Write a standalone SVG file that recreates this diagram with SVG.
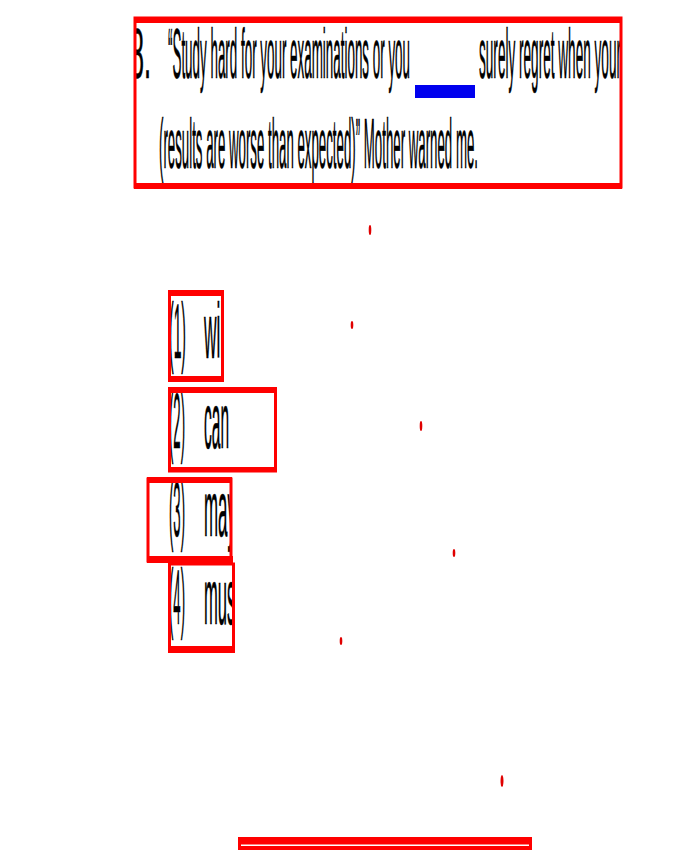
<svg xmlns="http://www.w3.org/2000/svg" width="700" height="850" viewBox="0 0 700 850">
<style>
.t{font-family:"Liberation Sans",Arial,sans-serif;fill:#000;stroke:#000;stroke-width:0.6;}
.q{font-size:70px;}
.o{font-size:78px;}
.box{fill:none;stroke:#ff0000;stroke-width:3;}
.band{fill:#ff0000;}
.speck{fill:#e00000;}
</style>
<defs>
<clipPath id="c1"><rect x="168" y="290" width="55" height="92"/></clipPath>
<clipPath id="c3"><rect x="147" y="477" width="85" height="86"/></clipPath>
<clipPath id="c4"><rect x="168" y="560" width="66" height="93"/></clipPath>
<clipPath id="cq"><rect x="134" y="17" width="488" height="172"/></clipPath>
</defs>
<rect width="700" height="850" fill="#fff"/>

<g id="question">
<g clip-path="url(#cq)">
<text class="t q" x="130" y="78" textLength="21" lengthAdjust="spacingAndGlyphs">8.</text>
<text class="t q" x="168" y="78" textLength="242" lengthAdjust="spacingAndGlyphs">“Study hard for your examinations or you</text>
<text class="t q" x="479" y="78" textLength="142" lengthAdjust="spacingAndGlyphs">surely regret when your</text>
<text class="t q" x="159" y="168" textLength="319" lengthAdjust="spacingAndGlyphs">(results are worse than expected)” Mother warned me.</text>
</g>
<rect x="415" y="85" width="60" height="13" fill="#0000ee"/>
<rect class="box" x="135" y="18" width="486" height="169"/>
<rect class="band" x="134" y="17" width="488" height="6"/>
<rect class="band" x="134" y="183" width="488" height="6"/>
</g>

<g id="option1">
<g clip-path="url(#c1)">
<text class="t o" x="169" y="358" textLength="17" lengthAdjust="spacingAndGlyphs">(1)</text>
<text class="t o" x="204" y="358" textLength="24" lengthAdjust="spacingAndGlyphs">will</text>
</g>
<rect class="box" x="169.5" y="292" width="53" height="87"/>
<rect class="band" x="168" y="290" width="56" height="6"/>
<rect class="band" x="168" y="376" width="56" height="6"/>
</g>

<g id="option2">
<text class="t o" x="169" y="448" textLength="16" lengthAdjust="spacingAndGlyphs">(2)</text>
<text class="t o" x="204" y="448" textLength="25" lengthAdjust="spacingAndGlyphs">can</text>
<rect class="box" x="169.5" y="389" width="106" height="82"/>
<rect class="band" x="168" y="387" width="109" height="6"/>
<rect class="band" x="168" y="467" width="109" height="5"/>
</g>

<g id="option3">
<g clip-path="url(#c3)">
<text class="t o" x="169" y="536" textLength="16" lengthAdjust="spacingAndGlyphs">(3)</text>
<text class="t o" x="204" y="536" textLength="32" lengthAdjust="spacingAndGlyphs">may</text>
</g>
<rect class="box" x="148" y="479" width="83" height="82"/>
<rect class="band" x="147" y="477" width="85" height="6"/>
<rect class="band" x="147" y="556" width="86" height="7"/>
</g>

<g id="option4">
<g clip-path="url(#c4)">
<text class="t o" x="169" y="624" textLength="16" lengthAdjust="spacingAndGlyphs">(4)</text>
<text class="t o" x="204" y="624" textLength="36" lengthAdjust="spacingAndGlyphs">must</text>
</g>
<rect class="box" x="169.5" y="564" width="64" height="87"/>
<rect class="band" x="168" y="646" width="67" height="7"/>
</g>

<g id="bottom-box">
<rect class="band" x="238" y="837" width="294" height="13"/>
<rect x="241" y="844.5" width="288" height="1.5" fill="#fff"/>
</g>

<g id="specks">
<ellipse class="speck" cx="370" cy="230" rx="1.3" ry="5"/>
<ellipse class="speck" cx="352" cy="325" rx="1.3" ry="4"/>
<ellipse class="speck" cx="421" cy="426" rx="1.3" ry="5"/>
<ellipse class="speck" cx="454" cy="553" rx="1.3" ry="4"/>
<ellipse class="speck" cx="341" cy="641" rx="1.3" ry="4"/>
<ellipse class="speck" cx="502" cy="781" rx="1.5" ry="6"/>
</g>
</svg>
